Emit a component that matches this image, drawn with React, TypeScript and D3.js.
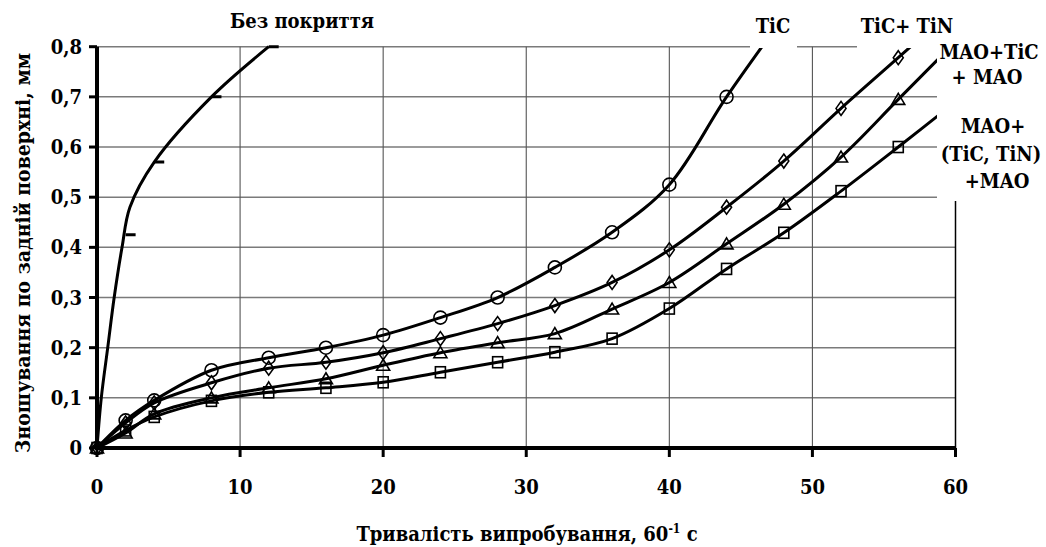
import React from 'react';
import * as d3 from 'd3';

// test time, 60^-1 s
const timeX = [0, 2, 4, 8, 12, 16, 20, 24, 28, 32, 36, 40, 44, 48, 52, 56, 60];

// flank wear, mm
const ticY = [0, 0.055, 0.095, 0.155, 0.18, 0.2, 0.225, 0.26, 0.3, 0.36, 0.43, 0.525, 0.7, 0.86];
const ticTinY = [0, 0.05, 0.09, 0.13, 0.159, 0.171, 0.19, 0.218, 0.248, 0.284, 0.33, 0.395, 0.48, 0.572, 0.677, 0.778, 0.88];
const maoTicY = [0, 0.03, 0.068, 0.1, 0.12, 0.138, 0.165, 0.19, 0.21, 0.228, 0.277, 0.33, 0.407, 0.486, 0.58, 0.695, 0.81];
const maoTicTinY = [0, 0.035, 0.062, 0.094, 0.111, 0.12, 0.131, 0.151, 0.171, 0.191, 0.218, 0.278, 0.357, 0.429, 0.512, 0.6, 0.69];

// uncoated tool: curve read along its path, dash markers at the measured times
const noCoatX = [0, 0.3, 0.75, 1.2, 1.75, 2.3, 4, 8, 12];
const noCoatY = [0, 0.1, 0.2, 0.3, 0.4, 0.48, 0.57, 0.7, 0.8];
const noCoatMarkX = [0, 2, 4, 8, 12];
const noCoatMarkY = [0, 0.425, 0.57, 0.7, 0.8];

const xTicks = [0, 10, 20, 30, 40, 50, 60];
const yTicks = [0, 0.1, 0.2, 0.3, 0.4, 0.5, 0.6, 0.7, 0.8];
const yTickLabels = ['0', '0,1', '0,2', '0,3', '0,4', '0,5', '0,6', '0,7', '0,8'];

const W = 1046;
const H = 547;
const FONT = "'DejaVu Serif', 'Liberation Serif', serif";
const SY = 1.05;
const FS = 20;

const x = d3.scaleLinear().domain([0, 60]).range([97, 955.5]);
const y = d3.scaleLinear().domain([0, 0.8]).range([448, 46.7]);

const line = d3
  .line<[number, number]>()
  .x((d) => x(d[0]))
  .y((d) => y(d[1]))
  .curve(d3.curveCatmullRom.alpha(0.5));

const pts = (ys: number[], xs: number[] = timeX): [number, number][] =>
  ys.map((v, i) => [xs[i], v]);

type Shape = 'circle' | 'diamond' | 'triangle' | 'square';

const Marker = ({ shape, cx, cy }: { shape: Shape; cx: number; cy: number }) => {
  const common = { fill: 'none', stroke: '#000', strokeWidth: 1.6 };
  if (shape === 'circle') return <circle cx={cx} cy={cy} r={6.5} {...common} />;
  if (shape === 'diamond')
    return <path d={`M${cx},${cy - 7}L${cx + 5},${cy}L${cx},${cy + 7}L${cx - 5},${cy}Z`} {...common} />;
  if (shape === 'triangle')
    return <path d={`M${cx},${cy - 6}L${cx + 6.5},${cy + 5}L${cx - 6.5},${cy + 5}Z`} {...common} />;
  return <rect x={cx - 5} y={cy - 5.5} width={10} height={11} {...common} />;
};

const series: { ys: number[]; shape: Shape }[] = [
  { ys: ticY, shape: 'circle' },
  { ys: ticTinY, shape: 'diamond' },
  { ys: maoTicY, shape: 'triangle' },
  { ys: maoTicTinY, shape: 'square' },
];

const textStyle = { fontFamily: FONT, fontWeight: 700, fontStretch: 'condensed' } as const;

const T = ({
  x: tx,
  y: ty,
  size = FS,
  anchor = 'middle',
  children,
}: {
  x: number;
  y: number;
  size?: number;
  anchor?: string;
  children: React.ReactNode;
}) => (
  <text
    transform={`translate(${tx},${ty}) scale(1,${SY})`}
    style={{ ...textStyle, fontSize: size }}
    textAnchor={anchor}
    fill="#000"
  >
    {children}
  </text>
);

export default function App() {
  const [x0, x1] = x.range();
  const [y0, y1] = y.range();

  return (
    <svg
      width={W}
      height={H}
      style={{ position: 'absolute', left: 0, top: 0, background: '#fff' }}
    >
      <defs>
        <clipPath id="plotClip">
          <rect x={80} y={44.5} width={880} height={430} />
        </clipPath>
      </defs>

      {/* gridlines */}
      {yTicks.slice(1).map((t) => (
        <line key={'h' + t} x1={x0} x2={x1} y1={y(t)} y2={y(t)} stroke="#7a7a7a" strokeWidth={1.5} />
      ))}
      {xTicks.slice(1, -1).map((t) => (
        <line key={'v' + t} x1={x(t)} x2={x(t)} y1={y0} y2={y1} stroke="#555" strokeWidth={1.1} />
      ))}
      <line x1={x1} x2={x1} y1={y0} y2={y1} stroke="#000" strokeWidth={1.5} />

      {/* series */}
      <g clipPath="url(#plotClip)">
        <path d={line(pts(noCoatY, noCoatX)) ?? ''} fill="none" stroke="#000" strokeWidth={3} />
        {noCoatMarkX.map((mx, i) => (
          <line
            key={'nc' + mx}
            x1={x(mx)}
            x2={x(mx) + 10}
            y1={y(noCoatMarkY[i])}
            y2={y(noCoatMarkY[i])}
            stroke="#000"
            strokeWidth={3}
          />
        ))}
        {series.map((s) => (
          <g key={s.shape}>
            <path d={line(pts(s.ys)) ?? ''} fill="none" stroke="#000" strokeWidth={3} />
            {s.ys.map((v, i) => (
              <Marker key={i} shape={s.shape} cx={x(timeX[i])} cy={y(v)} />
            ))}
          </g>
        ))}
      </g>

      {/* axes */}
      <line x1={x0} x2={x0} y1={y0 + 2} y2={y1} stroke="#000" strokeWidth={4} />
      <line x1={x0 - 2} x2={x1} y1={y0} y2={y0} stroke="#000" strokeWidth={4} />
      {yTicks.map((t) => (
        <line key={'yt' + t} x1={x0 - 8} x2={x0} y1={y(t)} y2={y(t)} stroke="#000" strokeWidth={3} />
      ))}
      {xTicks.map((t) => (
        <line key={'xt' + t} x1={x(t)} x2={x(t)} y1={y0} y2={y0 + 9} stroke="#000" strokeWidth={3} />
      ))}
      {yTicks.map((t, i) => (
        <T key={'yl' + t} x={82} y={y(t) + 7} anchor="end">
          {yTickLabels[i]}
        </T>
      ))}
      {xTicks.map((t) => (
        <T key={'xl' + t} x={x(t)} y={494}>
          {String(t)}
        </T>
      ))}

      {/* label boxes hide the grid under them */}
      <rect x={750} y={8} width={47} height={40} fill="#fff" />
      <rect x={857} y={8} width={90} height={40} fill="#fff" />
      <rect x={937} y={40} width={109} height={161} fill="#fff" />

      <T x={302} y={28}>Без покриття</T>
      <T x={773} y={33}>TiC</T>
      <T x={907} y={33}>TiC+ TiN</T>
      <T x={989} y={59}>MAO+TiC</T>
      <T x={987} y={84}>+ MAO</T>
      <T x={993} y={133}>MAO+</T>
      <T x={991} y={161}>(TiC, TiN)</T>
      <T x={997} y={188}>+MAO</T>

      {/* axis titles */}
      <T x={527} y={541}>
        Тривалість випробування, 60
        <tspan fontSize={12} dy={-8}>-1</tspan>
        <tspan dy={8}> с</tspan>
      </T>
      <text
        transform={`translate(30,253) scale(1,${SY}) rotate(-90)`}
        style={{ ...textStyle, fontSize: FS }}
        textAnchor="middle"
      >
        Зношування по задній поверхні, мм
      </text>
    </svg>
  );
}
